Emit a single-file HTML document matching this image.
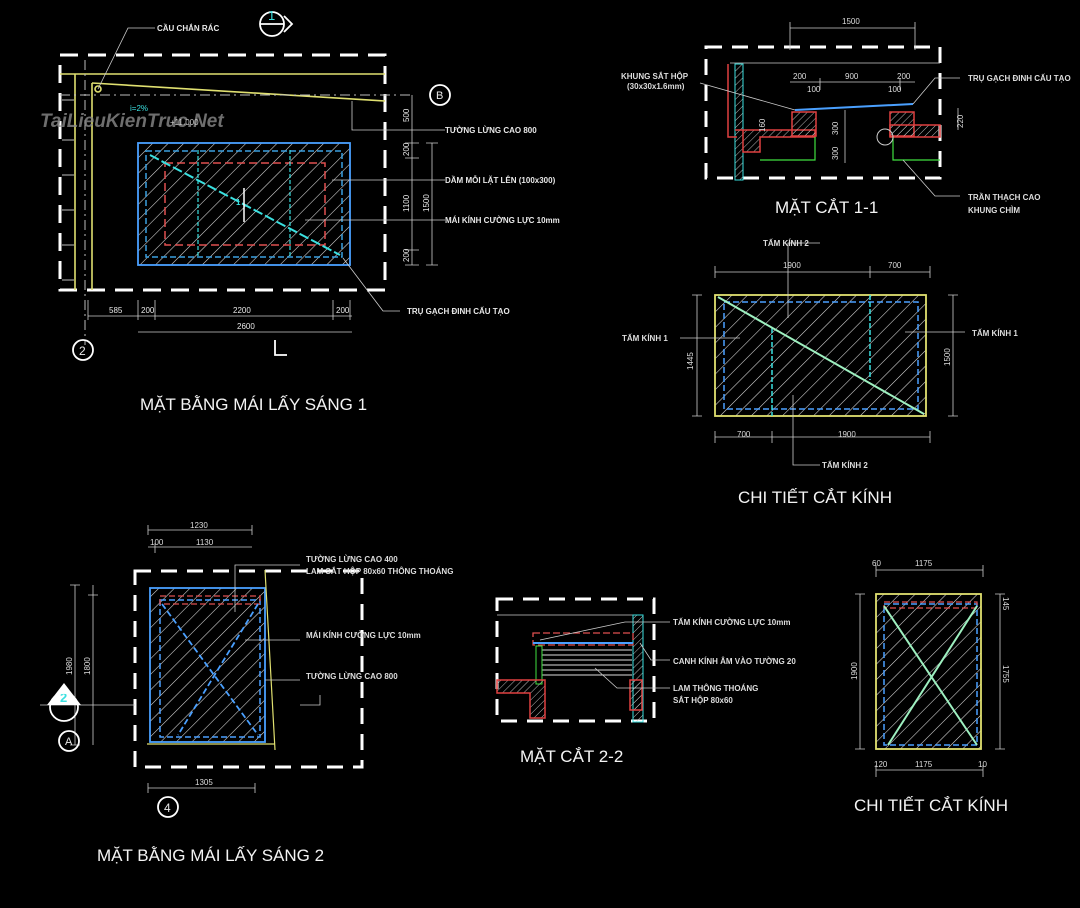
<!DOCTYPE html>
<html><head><meta charset="utf-8"><style>
html,body{margin:0;padding:0;background:#000;}
svg{display:block}
text{font-family:"Liberation Sans",sans-serif;fill:#e8e8e8}
.l{font-size:8px;font-weight:bold;fill:#ddd}
.t{font-size:17px;fill:#f4f4f4}
.d{font-size:8px;fill:#ddd}
</style></head><body>
<svg width="1080" height="908" viewBox="0 0 1080 908" xmlns="http://www.w3.org/2000/svg">
<defs>
<pattern id="h" width="11" height="11" patternUnits="userSpaceOnUse" patternTransform="rotate(45)">
<line x1="0" y1="0" x2="0" y2="11" stroke="#e0e0e0" stroke-width="1.1"/></pattern>
<pattern id="h2" width="5" height="5" patternUnits="userSpaceOnUse" patternTransform="rotate(45)">
<line x1="0" y1="0" x2="0" y2="5" stroke="#ccc" stroke-width="0.9"/></pattern>
</defs>
<rect width="1080" height="908" fill="#000"/>

<!-- ===== Drawing 1 ===== -->
<g fill="none" stroke="#fff" stroke-width="3" stroke-dasharray="18,10">
<rect x="60" y="55" width="325" height="235"/>
</g>
<g stroke="#e0e070" stroke-width="1.6" fill="none">
<line x1="60" y1="74" x2="385" y2="74"/>
<line x1="92" y1="83" x2="385" y2="101"/>
<line x1="92" y1="83" x2="92" y2="290"/>
<line x1="75" y1="74" x2="75" y2="290"/>
<circle cx="98" cy="89" r="3"/>
</g>
<g stroke="#bbb" stroke-width="1" fill="none">
<line x1="60" y1="95" x2="410" y2="95" stroke-dasharray="10,4,2,4"/>
<line x1="85" y1="60" x2="85" y2="345" stroke-dasharray="10,4,2,4"/>
<path d="M62 100h12M62 140h12M62 175h12M62 210h12M62 245h12M62 280h12"/>
</g>
<rect x="138" y="143" width="212" height="122" fill="url(#h)" stroke="#4aa0ff" stroke-width="1.8"/>
<rect x="146" y="151" width="196" height="106" fill="none" stroke="#3aa0e0" stroke-width="1.5" stroke-dasharray="6,3"/>
<rect x="165" y="163" width="160" height="82" fill="none" stroke="#e05050" stroke-width="1.5" stroke-dasharray="8,4"/>
<line x1="198" y1="150" x2="198" y2="258" stroke="#3ae0e0" stroke-width="1.2" stroke-dasharray="4,2"/>
<line x1="290" y1="150" x2="290" y2="258" stroke="#3ae0e0" stroke-width="1.2" stroke-dasharray="4,2"/>
<line x1="150" y1="155" x2="340" y2="255" stroke="#3ae0e0" stroke-width="2" stroke-dasharray="10,3"/>
<line x1="244" y1="188" x2="244" y2="222" stroke="#fff" stroke-width="1.5"/>
<text x="236" y="205" class="l" style="fill:#3ae0e0">1</text>
<g stroke="#ccc" stroke-width="0.8" fill="none">
<line x1="88" y1="316" x2="352" y2="316"/>
<path d="M88 300v20M138 300v20M155 300v20M333 300v20M350 300v20"/>
<line x1="138" y1="332" x2="352" y2="332"/>
<path d="M412 95v170M405 143h14M405 158h14M405 250h14M405 265h14M432 143v122M426 143h12M426 265h12"/>
</g>
<g class="d">
<text x="109" y="313">585</text><text x="141" y="313">200</text><text x="233" y="313">2200</text><text x="336" y="313">200</text>
<text x="237" y="329">2600</text>
<text x="409" y="122" transform="rotate(-90 409 122)">500</text>
<text x="409" y="156" transform="rotate(-90 409 156)">200</text>
<text x="409" y="212" transform="rotate(-90 409 212)">1100</text>
<text x="409" y="262" transform="rotate(-90 409 262)">200</text>
<text x="429" y="212" transform="rotate(-90 429 212)">1500</text>
</g>
<g stroke="#ccc" stroke-width="0.8" fill="none">
<path d="M98 89L128 28H155"/>
<path d="M352 101V130H445"/>
<path d="M332 180H445"/>
<path d="M305 220H445"/>
<path d="M343 258L383 311H400"/>
</g>
<g class="l">
<text x="157" y="31">CẦU CHẮN RÁC</text>
<text x="445" y="133">TƯỜNG LỪNG CAO 800</text>
<text x="445" y="183">DẦM MỖI LẶT LÊN (100x300)</text>
<text x="445" y="223">MÁI KÍNH CƯỜNG LỰC 10mm</text>
<text x="407" y="314">TRỤ GẠCH ĐINH CẤU TẠO</text>
</g>
<g stroke="#fff" stroke-width="1.8" fill="none">
<circle cx="272" cy="24" r="12"/><line x1="260" y1="24" x2="284" y2="24"/>
<path d="M284 16L292 24L284 32"/>
<circle cx="440" cy="95" r="10"/>
<circle cx="83" cy="350" r="10"/>
<path d="M275 340v15h12"/>
</g>
<text x="268" y="20" style="font-size:13px;fill:#3ae0e0">1</text>
<text x="436" y="99" style="font-size:11px">B</text>
<text x="79" y="355" style="font-size:12px">2</text>
<text x="140" y="410" class="t">MẶT BẰNG MÁI LẤY SÁNG 1</text>
<text x="40" y="127" style="font-size:19px;font-style:italic;font-weight:bold;fill:#8a8a8a;opacity:0.8">TaiLieuKienTruc.Net</text>
<text x="130" y="111" style="font-size:8px;fill:#3ae0e0">i=2%</text>
<text x="170" y="125" style="font-size:8px;fill:#ccc">+11.000</text>

<!-- ===== Drawing 2: MAT CAT 1-1 ===== -->
<rect x="706" y="47" width="234" height="131" fill="none" stroke="#fff" stroke-width="3" stroke-dasharray="16,10"/>
<g stroke="#ccc" stroke-width="0.8" fill="none">
<path d="M790 28H915M790 22v28M915 22v28"/>
<path d="M730 63H940"/>
<path d="M790 82H915M820 78v12M900 78v12"/>
</g>
<text x="842" y="24" class="d">1500</text>
<text x="793" y="79" class="d">200</text><text x="845" y="79" class="d">900</text><text x="897" y="79" class="d">200</text>
<text x="807" y="92" class="d">100</text><text x="888" y="92" class="d">100</text>
<rect x="735" y="64" width="8" height="116" fill="url(#h2)" stroke="#3ae0e0"/>
<path d="M728 64V137H737" fill="none" stroke="#e04040" stroke-width="1.5"/>
<path d="M735 130H815V137H760V152H743V130Z" fill="url(#h2)" stroke="#e04040" stroke-width="1.5"/>
<rect x="792" y="112" width="24" height="24" fill="url(#h2)" stroke="#e04040" stroke-width="1.5"/>
<rect x="890" y="112" width="24" height="24" fill="url(#h2)" stroke="#e04040" stroke-width="1.5"/>
<path d="M890 125H940V137H890Z" fill="url(#h2)" stroke="#e04040" stroke-width="1.5"/>
<path d="M760 160H815V137M893 137V160H940" fill="none" stroke="#40e040" stroke-width="1.2"/>
<line x1="795" y1="110" x2="913" y2="104" stroke="#4aa0ff" stroke-width="2"/>
<circle cx="885" cy="137" r="8" fill="none" stroke="#ccc"/>
<g stroke="#ccc" stroke-width="0.8" fill="none">
<path d="M700 83L795 110"/><path d="M913 104L935 78H960"/><path d="M903 160L935 196H960"/>
<path d="M845 110v53"/><path d="M958 108v22"/>
</g>
<text x="621" y="79" class="l">KHUNG SẮT HỘP</text><text x="627" y="89" class="l">(30x30x1.6mm)</text>
<text x="968" y="81" class="l">TRỤ GẠCH ĐINH CẤU TẠO</text>
<text x="968" y="200" class="l">TRẦN THẠCH CAO</text><text x="968" y="213" class="l">KHUNG CHÌM</text>
<text x="838" y="135" class="d" transform="rotate(-90 838 135)">300</text>
<text x="838" y="160" class="d" transform="rotate(-90 838 160)">300</text>
<text x="765" y="132" class="d" transform="rotate(-90 765 132)">160</text>
<text x="963" y="128" class="d" transform="rotate(-90 963 128)">220</text>
<text x="775" y="213" class="t">MẶT CẮT 1-1</text>

<!-- ===== Drawing 3 ===== -->
<rect x="715" y="295" width="211" height="121" fill="url(#h)" stroke="#e0e070" stroke-width="1.8"/>
<rect x="724" y="302" width="194" height="107" fill="none" stroke="#4aa0ff" stroke-width="1.5" stroke-dasharray="6,3"/>
<line x1="772" y1="328" x2="772" y2="416" stroke="#3ae0e0" stroke-width="1.5" stroke-dasharray="5,2"/>
<line x1="870" y1="295" x2="870" y2="380" stroke="#3ae0e0" stroke-width="1.5" stroke-dasharray="5,2"/>
<line x1="718" y1="297" x2="924" y2="414" stroke="#9ef0c0" stroke-width="2"/>
<g stroke="#ccc" stroke-width="0.8" fill="none">
<path d="M715 272H930M715 266v12M870 266v12M930 266v12"/>
<path d="M715 437H930M715 431v12M772 431v12M930 431v12"/>
<path d="M697 295v121M692 295h10M692 416h10"/>
<path d="M953 295v121M948 295h10M948 416h10"/>
<path d="M788 318V243H820"/><path d="M793 395V465H820"/>
<path d="M740 338H680"/><path d="M905 332H965"/>
</g>
<text x="783" y="268" class="d">1900</text><text x="888" y="268" class="d">700</text>
<text x="737" y="437" class="d">700</text><text x="838" y="437" class="d">1900</text>
<text x="693" y="370" class="d" transform="rotate(-90 693 370)">1445</text>
<text x="950" y="366" class="d" transform="rotate(-90 950 366)">1500</text>
<text x="763" y="246" class="l">TẤM KÍNH 2</text>
<text x="822" y="468" class="l">TẤM KÍNH 2</text>
<text x="622" y="341" class="l">TẤM KÍNH 1</text>
<text x="972" y="336" class="l">TẤM KÍNH 1</text>
<text x="738" y="503" class="t">CHI TIẾT CẮT KÍNH</text>

<!-- ===== Drawing 4 ===== -->
<rect x="135" y="571" width="227" height="196" fill="none" stroke="#fff" stroke-width="3" stroke-dasharray="16,10"/>
<rect x="150" y="588" width="115" height="154" fill="url(#h)" stroke="#4aa0ff" stroke-width="1.8"/>
<rect x="160" y="600" width="100" height="137" fill="none" stroke="#4aa0ff" stroke-width="1.5" stroke-dasharray="6,3"/>
<rect x="160" y="596" width="100" height="8" fill="none" stroke="#e05050" stroke-width="1.3" stroke-dasharray="6,3"/>
<path d="M162 604L258 735M258 604L178 735" stroke="#4aa0ff" stroke-width="1.8" stroke-dasharray="6,3" fill="none"/>
<path d="M147 744H275M265 570L275 750" stroke="#e0e070" stroke-width="1.2" fill="none"/>
<g stroke="#ccc" stroke-width="0.8" fill="none">
<path d="M148 530H252M148 525v10M252 525v10"/>
<path d="M148 547H252M155 543v10"/>
<path d="M148 788H255M148 783v10M255 783v10"/>
<path d="M75 585v160M70 585h10M70 745h10M93 585v160M88 595h10"/>
<path d="M235 612V565H300"/><path d="M245 640H300"/><path d="M265 680H300"/>
<path d="M40 705H135M300 705H320v-10"/>
</g>
<text x="190" y="528" class="d">1230</text><text x="150" y="545" class="d">100</text><text x="196" y="545" class="d">1130</text>
<text x="195" y="785" class="d">1305</text>
<text x="72" y="675" class="d" transform="rotate(-90 72 675)">1980</text>
<text x="90" y="675" class="d" transform="rotate(-90 90 675)">1800</text>
<text x="306" y="562" class="l">TƯỜNG LỪNG CAO 400</text>
<text x="306" y="574" class="l">LAM SẮT HỘP 80x60 THÔNG THOÁNG</text>
<text x="306" y="638" class="l">MÁI KÍNH CƯỜNG LỰC 10mm</text>
<text x="306" y="679" class="l">TƯỜNG LỪNG CAO 800</text>
<path d="M47 705L64 683L81 705Z" fill="#fff"/>
<text x="60" y="702" style="font-size:13px;font-weight:bold;fill:#3ae0e0">2</text>
<g stroke="#fff" stroke-width="1.8" fill="none">
<circle cx="64" cy="707" r="14"/>
<circle cx="69" cy="741" r="10"/>
<circle cx="168" cy="807" r="10"/>
</g>
<text x="65" y="745" style="font-size:11px">A</text>
<text x="164" y="812" style="font-size:12px">4</text>
<text x="97" y="861" class="t">MẶT BẰNG MÁI LẤY SÁNG 2</text>

<!-- ===== Drawing 5 ===== -->
<rect x="497" y="599" width="157" height="122" fill="none" stroke="#fff" stroke-width="3" stroke-dasharray="16,10"/>
<path d="M497 615H638" stroke="#ccc" stroke-width="0.8"/>
<rect x="633" y="615" width="10" height="107" fill="url(#h2)" stroke="#3ae0e0"/>
<rect x="533" y="633" width="100" height="12" fill="none" stroke="#e05050" stroke-width="1.3" stroke-dasharray="7,3"/>
<line x1="533" y1="643" x2="633" y2="643" stroke="#4aa0ff" stroke-width="2"/>
<g stroke="#ddd" stroke-width="1"><path d="M542 650H632M542 655H632M542 660H632M542 665H632M542 670H632M542 675H632"/></g>
<rect x="536" y="646" width="6" height="38" fill="none" stroke="#40e040"/>
<path d="M497 680H545V718H530V693H497Z" fill="url(#h2)" stroke="#e04040" stroke-width="1.5"/>
<rect x="630" y="680" width="12" height="30" fill="url(#h2)" stroke="#e04040" stroke-width="1.5"/>
<g stroke="#ccc" stroke-width="0.8" fill="none">
<path d="M540 640L625 622H670"/><path d="M640 643L651 660H670"/><path d="M595 668L617 688H670"/>
</g>
<text x="673" y="625" class="l">TẤM KÍNH CƯỜNG LỰC 10mm</text>
<text x="673" y="664" class="l">CANH KÍNH ÂM VÀO TƯỜNG 20</text>
<text x="673" y="691" class="l">LAM THÔNG THOÁNG</text>
<text x="673" y="703" class="l">SẮT HỘP 80x60</text>
<text x="520" y="762" class="t">MẶT CẮT 2-2</text>

<!-- ===== Drawing 6 ===== -->
<rect x="876" y="594" width="105" height="155" fill="url(#h)" stroke="#e0e070" stroke-width="1.8"/>
<rect x="884" y="604" width="93" height="141" fill="none" stroke="#4aa0ff" stroke-width="1.5" stroke-dasharray="6,3"/>
<rect x="884" y="602" width="93" height="6" fill="none" stroke="#e05050" stroke-width="1.2" stroke-dasharray="6,3"/>
<path d="M884 606L977 745M977 606L888 745" stroke="#9ef0c0" stroke-width="2" fill="none"/>
<g stroke="#ccc" stroke-width="0.8" fill="none">
<path d="M876 570H983M876 565v12M983 565v12"/>
<path d="M876 770H983M876 765v12M983 765v12"/>
<path d="M860 594v155M855 594h10M855 749h10"/>
<path d="M1000 594v155M995 594h10M995 749h10"/>
</g>
<text x="872" y="566" class="d">60</text><text x="915" y="566" class="d">1175</text>
<text x="874" y="767" class="d">120</text><text x="915" y="767" class="d">1175</text><text x="978" y="767" class="d">10</text>
<text x="857" y="680" class="d" transform="rotate(-90 857 680)">1900</text>
<text x="1003" y="665" class="d" transform="rotate(90 1003 665)">1755</text>
<text x="1003" y="597" class="d" transform="rotate(90 1003 597)">145</text>
<text x="854" y="811" class="t">CHI TIẾT CẮT KÍNH</text>
</svg>
</body></html>
